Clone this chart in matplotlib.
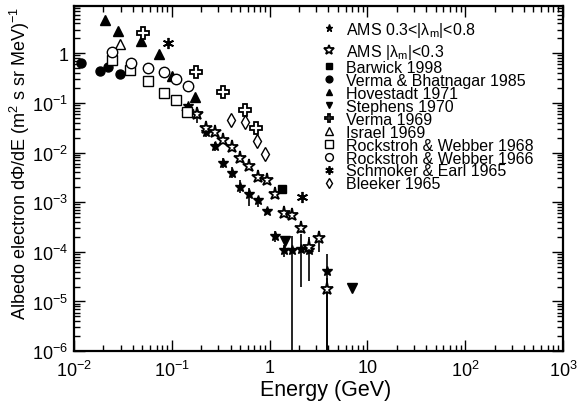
import numpy as np
import matplotlib
matplotlib.use("Agg")
import matplotlib.pyplot as plt
from matplotlib.ticker import FixedLocator, FixedFormatter, LogLocator, NullFormatter

plt.rcParams['font.family'] = ['Liberation Sans', 'DejaVu Sans']
plt.rcParams['mathtext.fontset'] = 'custom'
plt.rcParams['mathtext.rm'] = 'Liberation Sans'
plt.rcParams['mathtext.it'] = 'Liberation Sans:italic'
plt.rcParams['mathtext.bf'] = 'Liberation Sans:bold'
plt.rcParams['mathtext.sf'] = 'Liberation Sans'

# ---------------- data ----------------
ams1_e = [0.147, 0.18, 0.222, 0.277, 0.336, 0.416, 0.50, 0.62, 0.767, 0.934, 1.14, 1.40, 1.71, 2.09, 2.55, 3.84]
ams1_f = [0.088, 0.061, 0.026, 0.0134, 0.0062, 0.0039, 0.00203, 0.00144, 0.0011, 6.8e-4, 2.1e-4, 1.1e-4, 1.1e-4, 1.15e-4, 1.07e-4, 4.1e-5]
ams1_lo = [0.075, 0.039, 0.021, 0.0105, 0.0048, 0.0030, 0.0015, 8.5e-4, 8.1e-4, 6.0e-4, 1.6e-4, 7.8e-5, 1e-7, 1.96e-5, 2.6e-5, 1e-7]
ams1_hi = [0.10, 0.078, 0.032, 0.0165, 0.0078, 0.0050, 0.0028, 1.9e-3, 1.3e-3, 7.5e-4, 2.6e-4, 1.35e-4, 2.1e-4, 2.3e-4, 2.0e-4, 9.1e-5]

ams2_e = [0.147, 0.18, 0.222, 0.277, 0.336, 0.416, 0.50, 0.62, 0.767, 0.934, 1.14, 1.40, 1.71, 2.09, 2.55, 3.18, 3.84]
ams2_f = [0.065, 0.06, 0.0316, 0.026, 0.0177, 0.013, 0.0079, 0.0053, 0.00323, 0.00275, 0.00148, 6.0e-4, 5.6e-4, 3.0e-4, 1.28e-4, 1.9e-4, 1.79e-5]
ams2_lo = [0.058, 0.053, 0.028, 0.023, 0.0158, 0.0115, 0.0070, 0.0047, 0.0029, 0.0024, 0.0013, 5.0e-4, 4.6e-4, 2.4e-4, 9e-5, 1.0e-4, 1e-7]
ams2_hi = [0.072, 0.068, 0.035, 0.029, 0.0198, 0.0146, 0.0089, 0.0060, 0.0036, 0.0031, 0.0017, 7.2e-4, 6.8e-4, 3.8e-4, 1.8e-4, 2.3e-4, 3e-5]

barwick_e = [1.34]
barwick_f = [1.87e-3]

verma85_e = [0.0118, 0.01845, 0.0221, 0.0295]
verma85_f = [0.63, 0.447, 0.52, 0.377]

hove_e = [0.0207, 0.0284, 0.048, 0.0745, 0.0997, 0.1726]
hove_f = [4.7, 2.74, 1.80, 0.95, 0.355, 0.133]

steph_e = [1.45, 6.9]
steph_f = [1.62e-4, 1.87e-5]

verma69_e = [0.0512, 0.1767, 0.336, 0.56, 0.721]
verma69_f = [2.54, 0.427, 0.163, 0.0716, 0.0316]

israel_e = [0.0295]
israel_f = [1.52]

rw68_e = [0.0247, 0.0377, 0.0568, 0.0838, 0.110, 0.144]
rw68_f = [0.73, 0.46, 0.275, 0.161, 0.114, 0.0645]

rw66_e = [0.0247, 0.0383, 0.0568, 0.0838, 0.110, 0.1456]
rw66_f = [1.08, 0.65, 0.513, 0.427, 0.309, 0.222]

schm_e = [0.0907, 2.14]
schm_f = [1.64, 1.27e-3]

bleek_e = [0.40, 0.56, 0.738, 0.904]
bleek_f = [0.045, 0.0417, 0.017, 0.0094]

xtick_vals = [1e-2, 1e-1, 1, 10, 1e2, 1e3]
xtick_labels = ['$10^{-2}$', '$10^{-1}$', '1', '10', '$10^{2}$', '$10^{3}$']
ytick_vals = [1e-6, 1e-5, 1e-4, 1e-3, 1e-2, 1e-1, 1]
ytick_labels = ['$10^{-6}$', '$10^{-5}$', '$10^{-4}$', '$10^{-3}$', '$10^{-2}$', '$10^{-1}$', '1']

# ---------------- figure ----------------
fig = plt.figure(figsize=(5.87, 4.02), dpi=100)
ax = fig.add_axes([0.126, 0.124, 0.833, 0.859])
ax.set_xscale('log')
ax.set_yscale('log')
ax.set_xlim(1e-2, 1e3)
ax.set_ylim(1e-6, 9)

def err(f, lo, hi):
    f = np.array(f); return [f - np.array(lo), np.array(hi) - f]

ax.errorbar(ams1_e, ams1_f, yerr=err(ams1_f, ams1_lo, ams1_hi), fmt='none', ecolor='black', elinewidth=1.2, capsize=0, zorder=2)
ax.errorbar(ams2_e, ams2_f, yerr=err(ams2_f, ams2_lo, ams2_hi), fmt='none', ecolor='black', elinewidth=1.2, capsize=0, zorder=2)

kw = dict(ls='none', color='black', zorder=3)
a1, = ax.plot(ams1_e, ams1_f, marker='*', ms=7, mfc='black', mec='black', label=r'AMS 0.3<|λ$_{\mathrm{m}}$|<0.8', **kw)
a2, = ax.plot(ams2_e, ams2_f, marker='*', ms=9.5, mfc='white', mec='black', mew=1.3, label=r'AMS |λ$_{\mathrm{m}}$|<0.3', **kw)
others = []
others.append(ax.plot(barwick_e, barwick_f, marker='s', ms=6, mfc='black', mec='black', label='Barwick 1998', **kw)[0])
others.append(ax.plot(verma85_e, verma85_f, marker='o', ms=6.5, mfc='black', mec='black', label='Verma & Bhatnagar 1985', **kw)[0])
others.append(ax.plot(hove_e, hove_f, marker='^', ms=6.5, mfc='black', mec='black', label='Hovestadt 1971', **kw)[0])
others.append(ax.plot(steph_e, steph_f, marker='v', ms=6.5, mfc='black', mec='black', label='Stephens 1970', **kw)[0])
others.append(ax.plot(verma69_e, verma69_f, marker='P', ms=8, mfc='white', mec='black', mew=1.3, label='Verma 1969', **kw)[0])
others.append(ax.plot(israel_e, israel_f, marker='^', ms=7, mfc='white', mec='black', mew=1.0, label='Israel 1969', **kw)[0])
others.append(ax.plot(rw68_e, rw68_f, marker='s', ms=7, mfc='white', mec='black', mew=1.0, label='Rockstroh & Webber 1968', **kw)[0])
others.append(ax.plot(rw66_e, rw66_f, marker='o', ms=7.5, mfc='white', mec='black', mew=1.0, label='Rockstroh & Webber 1966', **kw)[0])
others.append(ax.plot(schm_e, schm_f, marker=(6, 2, 0), ms=8, mfc='black', mec='black', mew=1.3, label='Schmoker & Earl 1965', **kw)[0])
others.append(ax.plot(bleek_e, bleek_f, marker='d', ms=7, mfc='white', mec='black', mew=1.0, label='Bleeker 1965', **kw)[0])

common = dict(loc='upper left', frameon=False, fontsize=11.5, borderpad=0, handlelength=1.0,
              handletextpad=0.6, markerscale=0.75, borderaxespad=0)
leg1 = ax.legend(handles=[a1, a2], bbox_to_anchor=(0.505, 0.960), labelspacing=0.2, **common)
ax.add_artist(leg1)
leg2 = ax.legend(handles=others, bbox_to_anchor=(0.505, 0.843), labelspacing=-0.13, **common)

ax.xaxis.set_major_locator(FixedLocator(xtick_vals))
ax.xaxis.set_major_formatter(FixedFormatter(xtick_labels))
ax.yaxis.set_major_locator(FixedLocator(ytick_vals))
ax.yaxis.set_major_formatter(FixedFormatter(ytick_labels))
ax.xaxis.set_minor_locator(LogLocator(base=10, subs=np.arange(2, 10), numticks=50))
ax.yaxis.set_minor_locator(LogLocator(base=10, subs=np.arange(2, 10), numticks=50))
ax.xaxis.set_minor_formatter(NullFormatter())
ax.yaxis.set_minor_formatter(NullFormatter())
ax.tick_params(which='both', direction='in', top=True, right=True, width=1, labelsize=13)
ax.tick_params(which='major', length=8)
ax.tick_params(which='minor', length=4)
ax.tick_params(axis='x', pad=6)
ax.tick_params(axis='y', pad=4)
for s in ax.spines.values():
    s.set_linewidth(1.6)

ax.set_xlabel('Energy (GeV)', fontsize=15.5)
ax.xaxis.set_label_coords(0.515, -0.08)
ax.set_ylabel(r'Albedo electron d$\Phi$/dE (m$^{2}$ s sr MeV)$^{-1}$', fontsize=13)
ax.yaxis.set_label_coords(-0.085, 0.545)

fig.savefig('out.png', dpi=100)
